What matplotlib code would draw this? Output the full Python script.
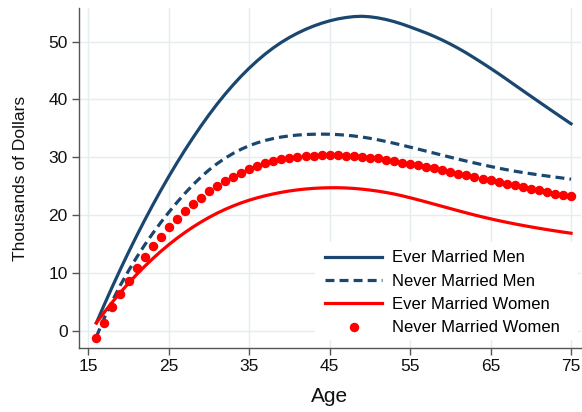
import matplotlib.pyplot as plt
from matplotlib.patches import Rectangle
import numpy as np

# Idade (16 a 75 anos)
ages = np.arange(16, 76)

ever_married_men = [
    1.40, 4.60, 7.70, 10.70, 13.61, 16.42, 19.13, 21.74, 24.26, 26.68,
    29.01, 31.24, 33.37, 35.41, 37.35, 39.19, 40.91, 42.52, 44.02, 45.41,
    46.69, 47.86, 48.92, 49.87, 50.71, 51.45, 52.11, 52.68, 53.17, 53.58,
    53.91, 54.15, 54.31, 54.37, 54.28, 54.09, 53.81, 53.45, 53.02, 52.53,
    52.01, 51.48, 50.90, 50.26, 49.57, 48.82, 48.02, 47.16, 46.28, 45.37,
    44.44, 43.48, 42.50, 41.53, 40.56, 39.60, 38.64, 37.69, 36.74, 35.80,
]
never_married_men = [
    -1.00, 2.30, 5.25, 7.95, 10.40, 12.70, 14.85, 16.85, 18.73, 20.50,
    22.18, 23.76, 25.24, 26.60, 27.82, 28.90, 29.85, 30.68, 31.40, 32.01,
    32.51, 32.92, 33.25, 33.51, 33.71, 33.85, 33.94, 33.99, 34.01, 33.99,
    33.93, 33.83, 33.69, 33.51, 33.29, 33.03, 32.74, 32.43, 32.10, 31.76,
    31.42, 31.07, 30.72, 30.37, 30.02, 29.68, 29.35, 29.03, 28.72, 28.42,
    28.13, 27.86, 27.61, 27.38, 27.17, 26.97, 26.78, 26.59, 26.41, 26.23,
]
ever_married_women = [
    1.40, 3.25, 5.01, 6.68, 8.26, 9.75, 11.16, 12.49, 13.74, 14.91,
    16.00, 17.01, 17.95, 18.82, 19.62, 20.35, 21.01, 21.60, 22.13, 22.60,
    23.01, 23.37, 23.68, 23.96, 24.19, 24.38, 24.53, 24.64, 24.71, 24.75,
    24.75, 24.71, 24.63, 24.51, 24.35, 24.16, 23.93, 23.67, 23.36, 23.02,
    22.66, 22.29, 21.91, 21.53, 21.15, 20.77, 20.40, 20.04, 19.70, 19.38,
    19.07, 18.78, 18.50, 18.24, 17.99, 17.75, 17.52, 17.30, 17.09, 16.89,
]
never_married_women = [
    -1.2, 1.4, 4.1, 6.4, 8.6, 10.8, 12.7, 14.6, 16.3, 17.9,
    19.3, 20.7, 21.9, 23.0, 24.1, 25.0, 25.9, 26.6, 27.3, 27.9,
    28.5, 29.0, 29.35, 29.65, 29.9, 30.1, 30.2, 30.3, 30.35, 30.4,
    30.35, 30.3, 30.2, 30.05, 29.9, 29.8, 29.5, 29.3, 29.1, 28.9,
    28.7, 28.4, 28.1, 27.8, 27.5, 27.2, 26.9, 26.65, 26.3, 26.0,
    25.7, 25.4, 25.2, 24.9, 24.6, 24.3, 24.0, 23.7, 23.5, 23.3,
]

x_ticks = [15, 25, 35, 45, 55, 65, 75]
y_ticks = [0, 10, 20, 30, 40, 50]

navy = "#1a476f"
red = "#ff0000"

plt.rcParams["font.family"] = ["Liberation Sans", "DejaVu Sans"]

fig = plt.figure(figsize=(5.82, 4.12), dpi=100)
ax = fig.add_axes([0.1357, 0.1553, 0.8626, 0.8253])

ax.plot(ages, ever_married_men, color=navy, lw=2.3, label="Ever Married Men", zorder=3)
ax.plot(ages, never_married_men, color=navy, lw=2.3, ls=(0, (2.8, 1.6)),
        label="Never Married Men", zorder=3)
ax.plot(ages, ever_married_women, color=red, lw=2.3, label="Ever Married Women", zorder=3)
ax.plot(ages, never_married_women, ls="none", marker="o", ms=5.8, color=red,
        label="Never Married Women", zorder=3)

ax.set_xlim(13.84, 76.24)
ax.set_ylim(-2.94, 55.8)
ax.set_xticks(x_ticks)
ax.set_yticks(y_ticks)

# grade clarinha estilo Stata
ax.grid(True, color="#e5eeee", lw=1.0)
ax.set_axisbelow(True)

for lado in ["top", "right"]:
    ax.spines[lado].set_visible(False)
for lado in ["left", "bottom"]:
    ax.spines[lado].set_color("#555555")
    ax.spines[lado].set_linewidth(1.0)

ax.tick_params(axis="both", direction="out", length=5, width=1.0,
               color="#555555", labelsize=12.5, labelcolor="#111111", pad=3)

ax.set_xlabel("Age", fontsize=15, color="#111111", labelpad=9)
ax.set_ylabel("Thousands of Dollars", fontsize=12.5, color="#111111", labelpad=15)

# fundo branco da legenda (cobre a grade)
ax.add_patch(Rectangle((0.470, 0.0235), 0.524, 0.289, transform=ax.transAxes,
                       facecolor="white", edgecolor="none", zorder=1))

leg = ax.legend(loc="lower right", bbox_to_anchor=(0.958, 0.037), frameon=False,
                fontsize=12, handlelength=3.4, handletextpad=0.6,
                labelspacing=0.5, borderpad=0, borderaxespad=0, numpoints=1)

fig.savefig("out.png", dpi=100)
